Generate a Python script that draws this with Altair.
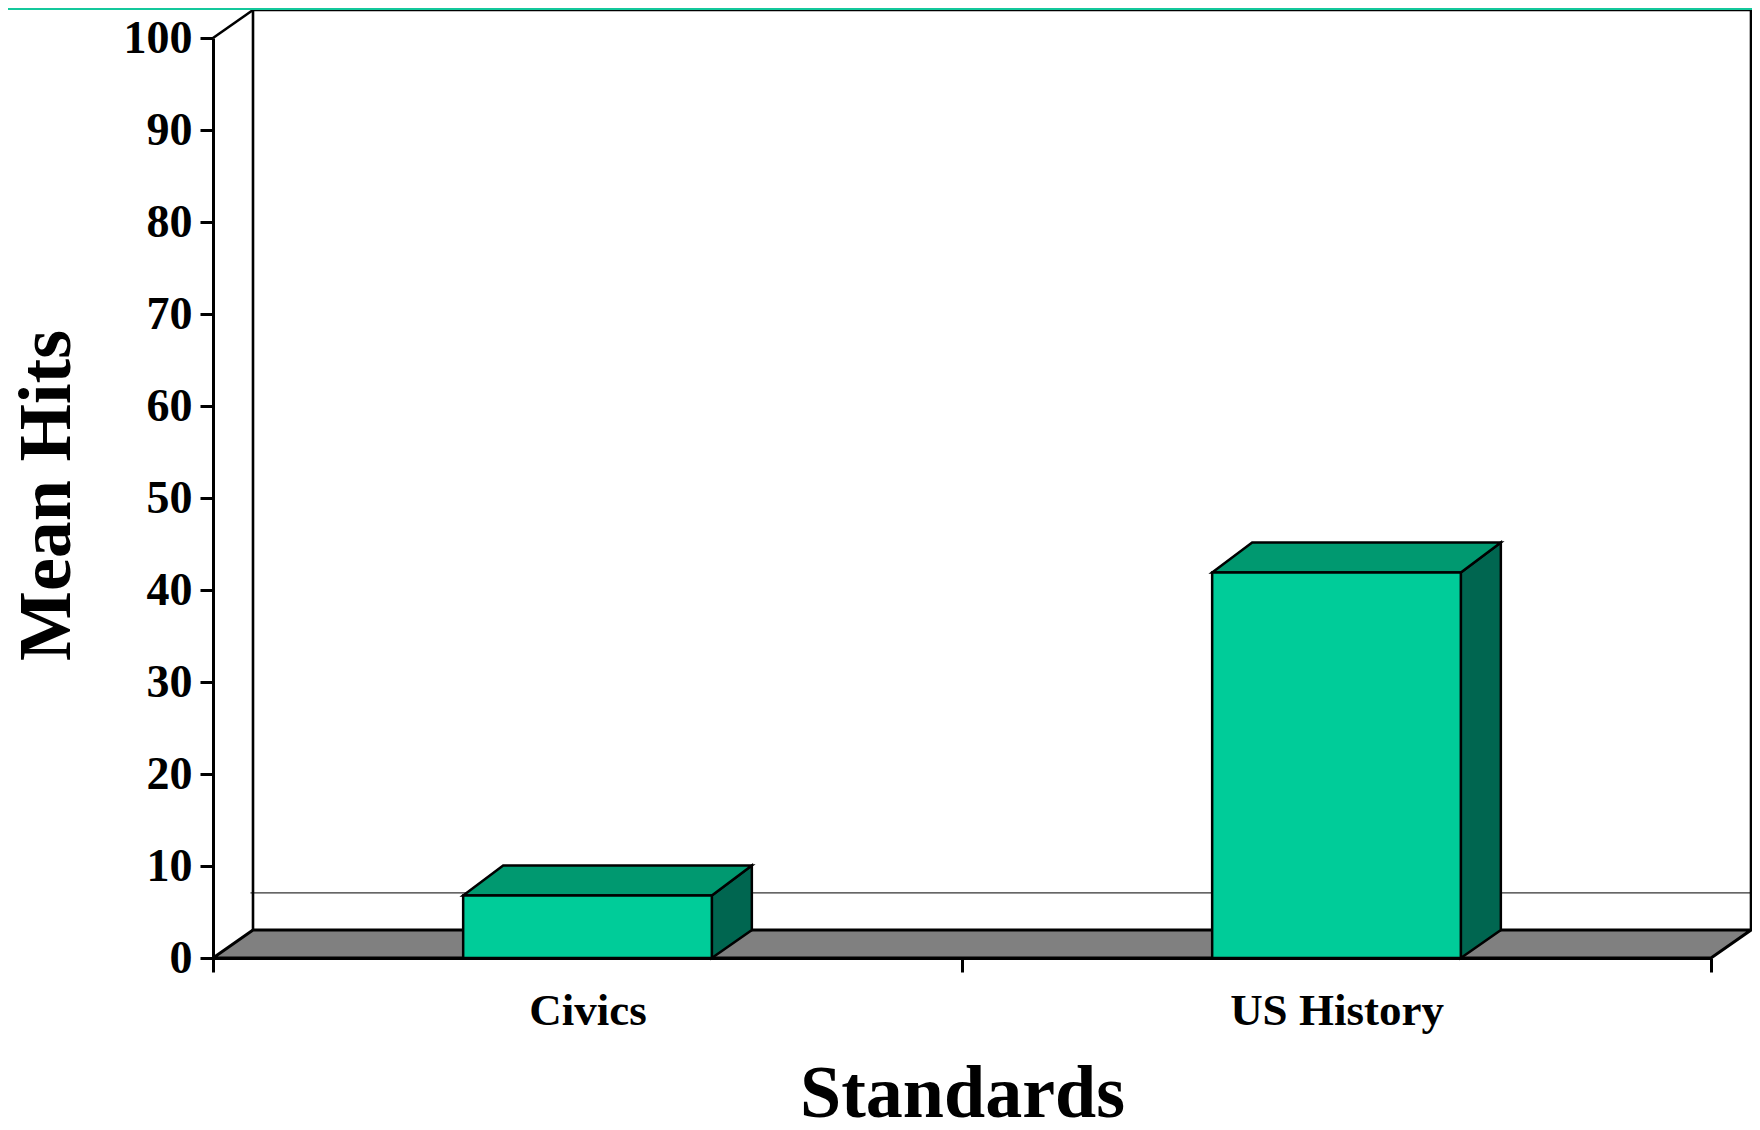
import altair as alt
import pandas as pd

# ---- data ----
categories = ["Civics", "US History"]
mean_hits = [6.8, 41.9]
y_ticks = [0, 10, 20, 30, 40, 50, 60, 70, 80, 90, 100]
y_max = 100
back_line_level = [7.07]          # thin stray line on the back wall

# ---- geometry / style constants ----
W, H = 1498, 920
n = len(categories)
DX = 40 / (W / n)                 # depth offset in x units (one band = 1)
DYF = 28 * y_max / H              # floor / wall depth in y units
DYB = 30 * y_max / H              # bar depth in y units
HALF = 0.166                      # half bar width in band units
FONT = "Liberation Serif"
FRONT, TOP, SIDE = "#00CC99", "#009970", "#006650"
FLOOR = "#808080"
BANNER = "#14C89C"

centers = [i + 0.5 for i in range(n)]
label_expr = " : ".join(
    f"datum.value === {c} ? '{cat}'" for c, cat in zip(centers, categories)
) + " : ''"

x_axis = alt.Axis(
    values=[0] + [v for c in centers for v in (c, c + 0.5)],
    labelExpr=label_expr,
    tickOpacity={"condition": {"test": "datum.value % 1 !== 0", "value": 0}, "value": 1},
    tickSize=14, tickWidth=3, tickColor="black",
    domainColor="black", domainWidth=3,
    labelFont=FONT, labelFontSize=45, labelFontWeight="bold", labelColor="black",
    labelBaseline="alphabetic", labelPadding=52, labelOverlap=False, labelFlush=False,
    labelLimit=0,
    grid=False,
    title="Standards", titleFont=FONT, titleFontSize=74, titleFontWeight="bold",
    titleColor="black", titleX=W / 2, titleY=158, titleBaseline="alphabetic",
    titleAlign="center",
)
y_axis = alt.Axis(
    values=y_ticks, format="d",
    tickSize=13, tickWidth=3, tickColor="black",
    domainColor="black", domainWidth=3,
    labelFont=FONT, labelFontSize=46, labelFontWeight="bold", labelColor="black",
    labelPadding=8, labelBaseline="middle",
    grid=False,
    title="Mean Hits", titleFont=FONT, titleFontSize=74, titleFontWeight="bold",
    titleColor="black", titleAngle=270, titleX=-144, titleY=H / 2 - 3,
    titleBaseline="alphabetic", titleAlign="center",
)
xs = alt.Scale(domain=[0, n], nice=False)
ys = alt.Scale(domain=[0, y_max], nice=False)


def X(f):
    return alt.X(f"{f}:Q", scale=xs, axis=x_axis)


def Y(f):
    return alt.Y(f"{f}:Q", scale=ys, axis=y_axis, stack=None)


# ---- tables built from the arrays ----
floor_df = pd.DataFrame({"x": [0, DX, n, n + DX],
                         "y": [0, 0, 0, DYF],
                         "y2": [0, DYF, DYF, DYF]})
wall_df = pd.DataFrame({"x": [DX, DX, n + DX, n + DX],
                        "y": [DYF, y_max + DYF, y_max + DYF, DYF],
                        "i": [0, 1, 2, 3]})
conn_df = pd.DataFrame({"x": [0, DX], "y": [y_max, y_max + DYF], "i": [0, 1]})
thin_df = pd.DataFrame({"x": [0.05, n + DX] * len(back_line_level),
                        "y": [v for v in back_line_level for _ in (0, 1)],
                        "i": [0, 1] * len(back_line_level)})

front_rows, side_rows, top_rows = [], [], []
for c, cat, v in zip(centers, categories, mean_hits):
    xl, xr = c - HALF, c + HALF
    front_rows.append({"cat": cat, "x": xl, "x2": xr, "y": 0, "y2": v})
    side_rows += [{"cat": cat, "x": xr, "y": 0, "y2": v},
                  {"cat": cat, "x": xr + DX, "y": DYF, "y2": v + DYB}]
    top_rows += [{"cat": cat, "x": xl, "y": v, "y2": v},
                 {"cat": cat, "x": xl + DX, "y": v, "y2": v + DYB},
                 {"cat": cat, "x": xr, "y": v, "y2": v + DYB},
                 {"cat": cat, "x": xr + DX, "y": v + DYB, "y2": v + DYB}]
front_df = pd.DataFrame(front_rows)
side_df = pd.DataFrame(side_rows)
top_df = pd.DataFrame(top_rows)

# ---- layers ----
banner = alt.Chart(pd.DataFrame({"a": [0]})).mark_rule(
    color=BANNER, strokeWidth=2.2
).encode(x=alt.value(-205), x2=alt.value(W + 41), y=alt.value(-29))

thin = alt.Chart(thin_df).mark_line(color="#333333", strokeWidth=1.3).encode(
    x=X("x"), y=Y("y"), order="i:Q")

wall = alt.Chart(wall_df).mark_line(color="black", strokeWidth=2.6, strokeJoin="miter").encode(
    x=X("x"), y=Y("y"), order="i:Q")

floor = alt.Chart(floor_df).mark_area(
    color=FLOOR, stroke="black", strokeWidth=3, strokeJoin="miter", opacity=1
).encode(x=X("x"), y=Y("y"), y2="y2:Q")

conn = alt.Chart(conn_df).mark_line(color="black", strokeWidth=2.6).encode(
    x=X("x"), y=Y("y"), order="i:Q")

side = alt.Chart(side_df).mark_area(
    color=SIDE, stroke="black", strokeWidth=2.5, strokeJoin="miter", opacity=1
).encode(x=X("x"), y=Y("y"), y2="y2:Q", detail="cat:N")

top = alt.Chart(top_df).mark_area(
    color=TOP, stroke="black", strokeWidth=2.5, strokeJoin="miter", opacity=1
).encode(x=X("x"), y=Y("y"), y2="y2:Q", detail="cat:N")

front = alt.Chart(front_df).mark_rect(
    color=FRONT, stroke="black", strokeWidth=2.5, strokeJoin="miter", opacity=1
).encode(x=X("x"), x2="x2:Q", y=Y("y"), y2="y2:Q")

chart = alt.layer(thin, wall, floor, conn, side, top, front, banner).properties(
    width=W, height=H,
    autosize=alt.AutoSizeParams(type="none"),
    padding={"left": 205, "top": 30, "right": 41, "bottom": 162},
    background="white",
).configure_view(stroke=None)

chart.save("out.html", embed_options={"renderer": "svg", "actions": False})
